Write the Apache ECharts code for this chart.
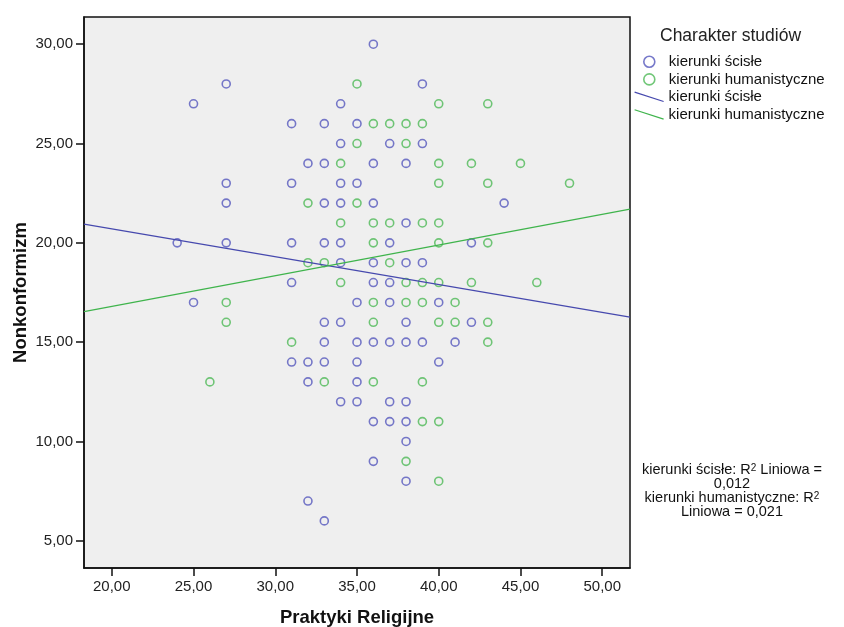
<!DOCTYPE html>
<html>
<head>
<meta charset="utf-8">
<script src="https://cdn.jsdelivr.net/npm/echarts@6/dist/echarts.min.js"></script>
<style>
  html, body { margin: 0; padding: 0; background: #fff; }
  #chart { width: 844px; height: 627px; }
</style>
</head>
<body>
<div id="chart"></div>
<script>
// Axis ticks
const xTicks = [20, 25, 30, 35, 40, 45, 50];
const yTicks = [5, 10, 15, 20, 25, 30];

// Group names
const groupNames = ['kierunki ścisłe', 'kierunki humanistyczne'];

// [Praktyki Religijne, Nonkonformizm] — kierunki ścisłe
const scislePoints = [
  [36, 30],
  [27, 28], [39, 28],
  [25, 27], [34, 27],
  [31, 26], [33, 26], [35, 26],
  [34, 25], [37, 25], [39, 25],
  [32, 24], [33, 24], [36, 24], [38, 24],
  [27, 23], [31, 23], [34, 23], [35, 23],
  [27, 22], [33, 22], [34, 22], [36, 22], [44, 22],
  [38, 21],
  [24, 20], [27, 20], [31, 20], [33, 20], [34, 20], [37, 20], [42, 20],
  [34, 19], [36, 19], [38, 19], [39, 19],
  [31, 18], [36, 18], [37, 18],
  [25, 17], [35, 17], [37, 17], [40, 17],
  [33, 16], [34, 16], [38, 16], [42, 16],
  [33, 15], [35, 15], [36, 15], [37, 15], [38, 15], [39, 15], [41, 15],
  [31, 14], [32, 14], [33, 14], [35, 14], [40, 14],
  [32, 13], [35, 13],
  [34, 12], [35, 12], [37, 12], [38, 12],
  [36, 11], [37, 11], [38, 11],
  [38, 10],
  [36, 9],
  [38, 8],
  [32, 7],
  [33, 6]
];

// [Praktyki Religijne, Nonkonformizm] — kierunki humanistyczne
const humanPoints = [
  [35, 28],
  [40, 27], [43, 27],
  [36, 26], [37, 26], [38, 26], [39, 26],
  [35, 25], [38, 25],
  [34, 24], [40, 24], [42, 24], [45, 24],
  [40, 23], [43, 23], [48, 23],
  [32, 22], [35, 22],
  [34, 21], [36, 21], [37, 21], [39, 21], [40, 21],
  [36, 20], [40, 20], [43, 20],
  [32, 19], [33, 19], [37, 19],
  [34, 18], [38, 18], [39, 18], [40, 18], [42, 18], [46, 18],
  [27, 17], [36, 17], [38, 17], [39, 17], [41, 17],
  [27, 16], [36, 16], [40, 16], [41, 16], [43, 16],
  [31, 15], [43, 15],
  [26, 13], [33, 13], [36, 13], [39, 13],
  [39, 11], [40, 11],
  [38, 9],
  [40, 8]
];

// Linear fit lines, endpoints at the axis limits
const scisleFit = [[18.3, 20.94], [51.7, 16.26]];
const humanFit = [[18.3, 16.54], [51.7, 21.70]];

// R² of the linear fits
const r2Values = ['0,012', '0,021'];

const FONT = "'Liberation Sans', Arial, sans-serif";
const BLUE_PT = '#5557BD';
const GREEN_PT = '#4DB956';
const BLUE_LN = '#4649AE';
const GREEN_LN = '#3FB44C';

const lineNames = ['Liniowa: ' + groupNames[0], 'Liniowa: ' + groupNames[1]];
const legendText = {};
legendText[lineNames[0]] = groupNames[0];
legendText[lineNames[1]] = groupNames[1];

const fmt = v => v.toFixed(2).replace('.', ',');

const chart = echarts.init(document.getElementById('chart'), null, { renderer: 'canvas' });

const ringStyle = c => ({ color: 'transparent', borderColor: c, borderWidth: 1.6 });

chart.setOption({
  animation: false,
  backgroundColor: '#fff',
  textStyle: { fontFamily: FONT },
  title: {
    text: 'Charakter studiów',
    left: 660, top: 27, padding: 0,
    textStyle: { fontFamily: FONT, fontSize: 17.5, fontWeight: 'normal', color: '#222' }
  },
  legend: [
    {
      orient: 'vertical', left: 643, top: 53, padding: 0,
      itemWidth: 11, itemHeight: 11, itemGap: 0,
      textStyle: { fontFamily: FONT, fontSize: 15, color: '#111', lineHeight: 17.6, padding: [0, 0, 0, 9] },
      data: [
        { name: groupNames[0], icon: 'circle', itemStyle: ringStyle(BLUE_PT) },
        { name: groupNames[1], icon: 'circle', itemStyle: ringStyle(GREEN_PT) }
      ],
      selectedMode: false
    },
    {
      orient: 'vertical', left: 634, top: 88, padding: 0,
      itemWidth: 29, itemHeight: 10, itemGap: 0,
      textStyle: { fontFamily: FONT, fontSize: 15, color: '#111', lineHeight: 17.6 },
      formatter: n => legendText[n] || n,
      data: [
        { name: lineNames[0], icon: 'path://M0,0L31,10', itemStyle: { color: 'transparent', borderColor: BLUE_LN, borderWidth: 1.2 } },
        { name: lineNames[1], icon: 'path://M0,0L31,10', itemStyle: { color: 'transparent', borderColor: GREEN_LN, borderWidth: 1.2 } }
      ],
      selectedMode: false
    }
  ],
  grid: {
    left: 84, top: 17, right: 214, bottom: 59,
    outerBoundsMode: 'none', containLabel: false,
    show: true, backgroundColor: '#EFEFEF', borderColor: '#111', borderWidth: 1.5
  },
  xAxis: {
    type: 'value', min: 18.3, max: 51.7,
    name: 'Praktyki Religijne', nameLocation: 'middle', nameGap: 40, nameMoveOverlap: false,
    nameTextStyle: { fontFamily: FONT, fontSize: 18.5, fontWeight: 'bold', color: '#111' },
    axisLine: { show: true, onZero: false, lineStyle: { color: '#111', width: 1.5 } },
    axisTick: { show: true, length: 8, lineStyle: { color: '#111', width: 1.5 }, customValues: xTicks },
    axisLabel: { fontFamily: FONT, fontSize: 15, color: '#222', margin: 11, formatter: fmt, customValues: xTicks },
    splitLine: { show: false }
  },
  yAxis: {
    type: 'value', min: 3.63, max: 31.37,
    name: 'Nonkonformizm', nameLocation: 'middle', nameGap: 54, nameMoveOverlap: false,
    nameTextStyle: { fontFamily: FONT, fontSize: 18.5, fontWeight: 'bold', color: '#111' },
    axisLine: { show: true, onZero: false, lineStyle: { color: '#111', width: 1.5 } },
    axisTick: { show: true, length: 8, lineStyle: { color: '#111', width: 1.5 }, customValues: yTicks },
    axisLabel: { fontFamily: FONT, fontSize: 15, color: '#222', margin: 11, formatter: fmt, customValues: yTicks },
    splitLine: { show: false }
  },
  series: [
    {
      name: groupNames[0], type: 'scatter', symbol: 'circle', symbolSize: 8,
      itemStyle: ringStyle(BLUE_PT), data: scislePoints
    },
    {
      name: groupNames[1], type: 'scatter', symbol: 'circle', symbolSize: 8,
      itemStyle: ringStyle(GREEN_PT), data: humanPoints
    },
    {
      name: lineNames[0], type: 'line', showSymbol: false, symbol: 'none',
      lineStyle: { color: BLUE_LN, width: 1.2 }, itemStyle: { color: BLUE_LN },
      data: scisleFit, z: 3
    },
    {
      name: lineNames[1], type: 'line', showSymbol: false, symbol: 'none',
      lineStyle: { color: GREEN_LN, width: 1.2 }, itemStyle: { color: GREEN_LN },
      data: humanFit, z: 3
    }
  ],
  graphic: [
    {
      type: 'text', x: 732, y: 463,
      style: {
        text: groupNames[0] + ': R{sup|2} Liniowa =\n' + r2Values[0] + '\n' +
              groupNames[1] + ': R{sup|2}\nLiniowa = ' + r2Values[1],
        font: '14.5px ' + FONT,
        fill: '#111',
        align: 'center',
        verticalAlign: 'top',
        lineHeight: 14,
        rich: {
          sup: { fontSize: 10, fontFamily: FONT, fill: '#111', verticalAlign: 'top', lineHeight: 14 }
        }
      }
    }
  ]
});
</script>
</body>
</html>
